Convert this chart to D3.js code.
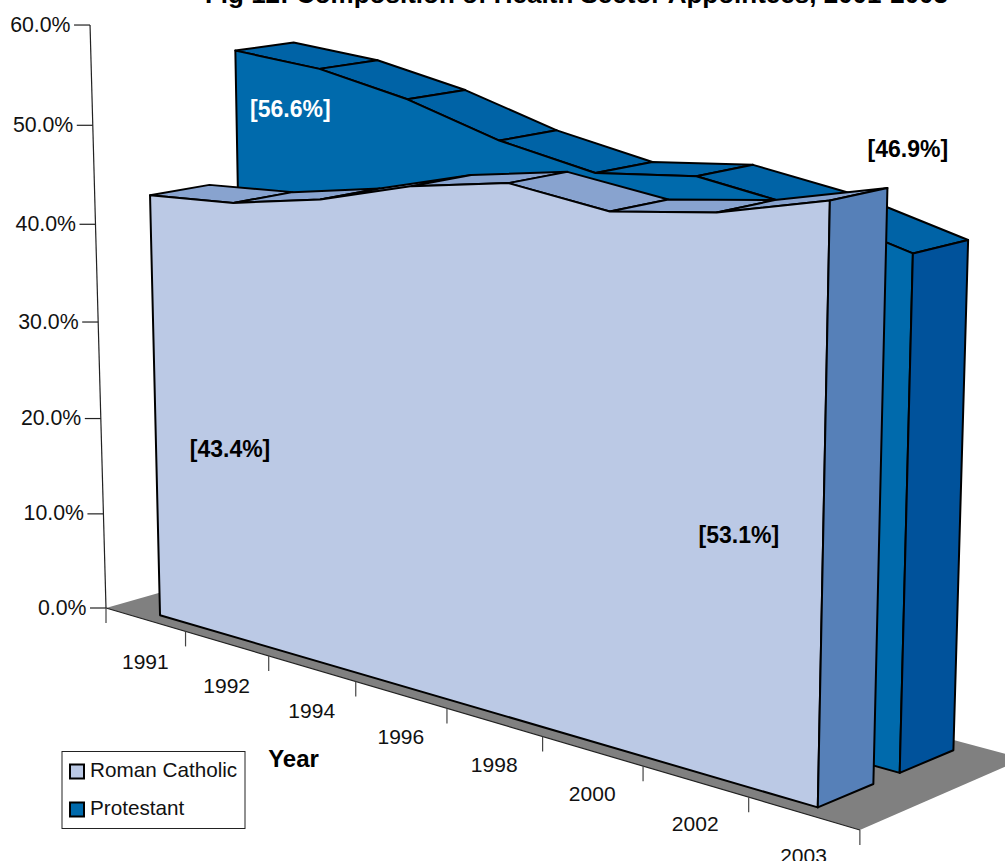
<!DOCTYPE html>
<html><head><meta charset="utf-8">
<script src="https://cdn.jsdelivr.net/npm/d3@7/dist/d3.min.js"></script>
<style>html,body{margin:0;padding:0;background:#fff;overflow:hidden}svg{display:block}text{font-family:"Liberation Sans",Arial,sans-serif}</style>
</head><body>
<svg id="c" width="1005" height="861"></svg>
<script>
// ---- data ----
const years = ["1991","1992","1994","1996","1998","2000","2002","2003"];
const romanCatholic = [43.4,44.1,45.9,48.6,50.3,49.2,50.6,53.1];
const protestant = [56.6,55.9,54.1,51.4,49.7,50.8,49.4,46.9];
const yTicks = [0,10,20,30,40,50,60];
const seriesNames = ["Roman Catholic","Protestant"];
const titleText = "Fig 12: Composition of Health Sector Appointees, 2001-2003";

// ---- scales: category, value, depth -> unit cube ----
const xS = d3.scaleLinear().domain([0,years.length]).range([0,1]);
const yS = d3.scaleLinear().domain([0,60]).range([0,1]);
const zS = d3.scaleLinear().domain([0,1]).range([0,0.049]);
// perspective camera (homogeneous 3x4 matrix)
const cam = [[604,-19.3,3780,106],[77.3,-583.9,-441,608],[-0.1743,-0.0371,1,1]];
function P(c,v,d){
  const X=xS(c),Y=yS(v),Z=zS(d);
  const h=cam.map(r=>r[0]*X+r[1]*Y+r[2]*Z+r[3]);
  return [h[0]/h[2],h[1]/h[2]];
}
const svg=d3.select("#c");
const line=d3.line();
const poly=(pts,fill,sw=2)=>svg.append("path").attr("d",line(pts)+"Z").attr("fill",fill)
  .attr("stroke",sw?"#000":"none").attr("stroke-width",sw).attr("stroke-linejoin","round");

// floor
poly([P(0,0,0),P(8,0,0),P(8,0,1),P(0,0,1)],"#808080",0);

function ribbon(vals,d0,d1,cols){
  const n=vals.length, c=i=>i+0.5;
  d3.range(n-1).forEach(i=>poly([P(c(i),vals[i],d0),P(c(i+1),vals[i+1],d0),P(c(i+1),vals[i+1],d1),P(c(i),vals[i],d1)],cols.top));
  const front=vals.map((v,i)=>P(c(i),v,d0));
  poly([P(c(0),0,d0),...front,P(c(n-1),0,d0)],cols.wall);
  poly([P(c(n-1),0,d0),P(c(n-1),vals[n-1],d0),P(c(n-1),vals[n-1],d1),P(c(n-1),0,d1)],cols.side);
}
ribbon(protestant,0.57,0.905,{top:"#0063A6",wall:"#006AAC",side:"#00529B"});
ribbon(romanCatholic,0.082,0.41,{top:"#88A3CF",wall:"#BBC9E5",side:"#5680B8"});

// axes
const ax=(a,b,col="#000",w=1)=>svg.append("line").attr("x1",a[0]).attr("y1",a[1]).attr("x2",b[0]).attr("y2",b[1]).attr("stroke",col).attr("stroke-width",w);
ax(P(0,0,0),P(0,60,0),"#222",1.2);
ax(P(0,0,0),P(8,0,0),"#222",1.2);
yTicks.forEach(t=>{
  const p=P(0,t,0);
  ax(p,[p[0]-16,p[1]],"#222",1.2);
  svg.append("text").attr("x",p[0]-19.5).attr("y",p[1]+6.5).attr("text-anchor","end")
    .attr("font-size",21.3).attr("fill","#111").text(t.toFixed(1)+"%");
});
d3.range(years.length+1).forEach(i=>{
  const p=P(i,0,0);
  ax(p,[p[0],p[1]+15],"#444",1.2);
});
years.forEach((y,i)=>{
  const p=P(i+0.5,0,0);
  svg.append("text").attr("x",p[0]).attr("y",p[1]+49.5).attr("text-anchor","middle")
    .attr("font-size",21).attr("fill","#111").text(y);
});

// data labels
const labelAt=(c,v,d,dx,dy,txt,col)=>{const p=P(c,v,d);
  svg.append("text").attr("x",p[0]+dx).attr("y",p[1]+dy).attr("text-anchor","middle")
   .attr("font-size",23).attr("font-weight","bold").attr("fill",col).text(txt);};
labelAt(0.5,protestant[0],0.57,55,66,"["+protestant[0].toFixed(1)+"%]","#fff");
labelAt(0.5,romanCatholic[0],0.082,80,262,"["+romanCatholic[0].toFixed(1)+"%]","#000");
labelAt(7.5,romanCatholic[7],0.082,-91,343,"["+romanCatholic[7].toFixed(1)+"%]","#000");
labelAt(7.5,protestant[7],0.57,-5,-96,"["+protestant[7].toFixed(1)+"%]","#000");

// title, axis name
svg.append("text").attr("x",576.5).attr("y",3).attr("text-anchor","middle").attr("font-size",26)
  .attr("font-weight","bold").attr("fill","#000").text(titleText);
svg.append("text").attr("x",293.5).attr("y",767).attr("text-anchor","middle").attr("font-size",24)
  .attr("font-weight","bold").attr("fill","#000").text("Year");

// legend
const lg=svg.append("g");
lg.append("rect").attr("x",62).attr("y",751.5).attr("width",183).attr("height",77).attr("fill","#fff").attr("stroke","#222").attr("stroke-width",1);
const swatch=["#BBC9E5","#006AAC"];
seriesNames.forEach((s,i)=>{
  const cy=771.5+38*i;
  lg.append("rect").attr("x",70).attr("y",cy-7).attr("width",14).attr("height",14).attr("fill",swatch[i]).attr("stroke","#000").attr("stroke-width",2);
  lg.append("text").attr("x",90).attr("y",cy+5.5).attr("font-size",20.7).attr("fill","#111").text(s);
});
</script>
</body></html>
